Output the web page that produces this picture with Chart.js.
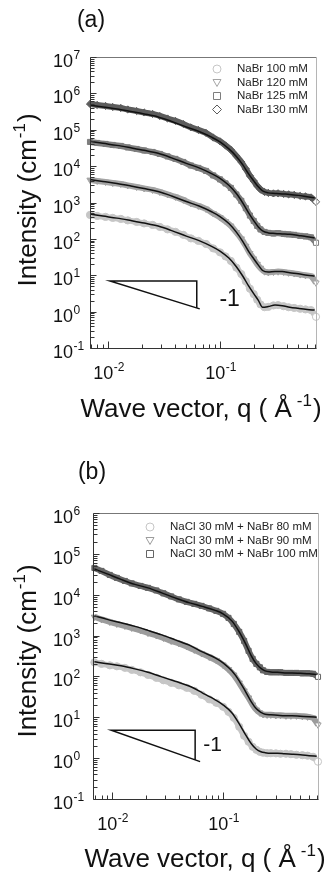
<!DOCTYPE html>
<html>
<head>
<meta charset="utf-8">
<title>Intensity vs wave vector</title>
<script src="https://cdn.jsdelivr.net/npm/chart.js@4.4.1/dist/chart.umd.min.js"></script>
<style>
    html, body { margin: 0; padding: 0; background: #fff; }
    canvas { position: absolute; left: 0; }
    #panelA { top: 0; }
    #panelB { top: 430px; }
</style>
</head>
<body>
<canvas id="panelA" width="329" height="430"></canvas>
<canvas id="panelB" width="329" height="447"></canvas>
<script>
// Wave vector of the measured points and of the fitted curves (1/Å)
const qData = [0.0069, 0.008, 0.0095, 0.011, 0.013, 0.015, 0.018, 0.021, 0.025, 0.029,
    0.034, 0.04, 0.047, 0.055, 0.064, 0.075, 0.087, 0.1, 0.112, 0.125,
    0.14, 0.155, 0.17, 0.185, 0.2, 0.215, 0.23, 0.25, 0.27, 0.3,
    0.33, 0.37, 0.41, 0.46, 0.52, 0.58, 0.65, 0.72];
const qFit = [0.0069, 0.009, 0.012, 0.016, 0.021, 0.028, 0.037, 0.05, 0.065, 0.085,
    0.1, 0.12, 0.14, 0.16, 0.18, 0.2, 0.22, 0.24, 0.27, 0.31,
    0.36, 0.42, 0.5, 0.6, 0.7];

// Panel (a) - NaBr, measured intensity (cm^-1)
const nabr100 = [456, 428, 402, 377, 354, 322, 292, 266, 242, 213,
    182, 156, 129, 103, 88.1, 72.8, 54.7, 42.6, 33.0, 24.8,
    16.2, 10.8, 6.81, 4.28, 3.04, 2.12, 1.58, 1.32, 1.35, 1.48,
    1.51, 1.41, 1.32, 1.26, 1.20, 1.15, 1.10, 0.72];
const nabr120 = [4180, 3920, 3680, 3450, 3240, 2950, 2680, 2440, 2220, 1950,
    1670, 1430, 1180, 944, 807, 667, 501, 390, 303, 228,
    151, 101, 63.5, 39.9, 28.4, 20.2, 15.8, 12.6, 12.0, 12.3,
    12.6, 12.3, 11.7, 11.2, 10.5, 10.0, 9.5, 6.2];
const nabr125 = [46200, 43400, 40700, 38200, 35900, 32700, 29600, 27000, 24500, 21600,
    18500, 15800, 13000, 10400, 8930, 7380, 5550, 4320, 3350, 2520,
    1660, 1110, 697, 438, 311, 227, 182, 155, 146, 141,
    144, 137, 133, 129, 121, 117, 110, 78];
const nabr130 = [511000, 480000, 451000, 423000, 397000, 361000, 328000, 299000, 272000, 239000,
    204000, 175000, 144000, 116000, 99000, 82000, 61000, 48000, 37000, 28000,
    19000, 13000, 8400, 5400, 3900, 2860, 2290, 1950, 1840, 1780,
    1790, 1720, 1670, 1620, 1520, 1470, 1380, 1040];

// Panel (a) - fitted curves
const fit100 = [480, 423, 372, 318, 272, 225, 169, 119, 89.7, 61.4,
    46.2, 29.7, 17.2, 9.40, 5.08, 3.11, 2.04, 1.32, 1.38, 1.51,
    1.45, 1.32, 1.23, 1.15, 1.10];
const fit120 = [4280, 3770, 3320, 2840, 2420, 2000, 1510, 1060, 800, 547,
    412, 265, 153, 83.8, 45.3, 28.4, 19.0, 13.5, 12.3, 12.6,
    12.6, 11.7, 11.0, 10.0, 9.55];
const fit125 = [48000, 42300, 37200, 31800, 27200, 22500, 16900, 11900, 8970, 6140,
    4620, 2970, 1760, 962, 520, 318, 213, 166, 146, 141,
    137, 133, 124, 115, 106];
const fit130 = [480000, 423000, 373000, 318000, 272000, 225000, 169000, 119000, 89800, 61400,
    46200, 29700, 18500, 10800, 6110, 3920, 2690, 2080, 1840, 1780,
    1720, 1670, 1570, 1440, 1340];

// Panel (b) - NaCl 30 mM + NaBr, measured intensity (cm^-1)
const mix80 = [221, 203, 187, 177, 162, 145, 126, 109, 92.5, 80.4,
    69.8, 60.5, 52.6, 44.5, 35.5, 27.5, 22.6, 18.1, 13.6, 9.72,
    5.86, 3.53, 2.52, 1.90, 1.60, 1.43, 1.36, 1.32, 1.32, 1.31,
    1.28, 1.28, 1.25, 1.21, 1.18, 1.15, 1.08, 0.82];
const mix90 = [2860, 2490, 2160, 1930, 1730, 1540, 1340, 1160, 1010, 879,
    741, 644, 544, 447, 367, 301, 248, 192, 149, 109,
    69.8, 44.5, 30.0, 20.2, 15.2, 12.9, 11.8, 11.5, 11.5, 11.2,
    11.2, 10.9, 10.9, 10.9, 10.6, 10.3, 9.7, 6.56];
const mix100 = [45200, 38200, 30500, 25800, 21700, 18900, 16400, 14700, 12700, 10800,
    9080, 7670, 6670, 5960, 5320, 4620, 4020, 3400, 2710, 1930,
    1230, 741, 423, 269, 203, 167, 141, 129, 126, 126,
    126, 122, 122, 122, 119, 119, 116, 97.7];

// Panel (b) - fitted curves
const fitMix80 = [228, 203, 182, 153, 126, 97.7, 75.9, 57.3, 39.7, 26.8,
    20.2, 12.9, 6.93, 3.73, 2.25, 1.65, 1.43, 1.36, 1.32, 1.32,
    1.28, 1.25, 1.21, 1.15, 1.11];
const fitMix90 = [3030, 2490, 2050, 1680, 1340, 1040, 785, 575, 399, 285,
    215, 137, 78.0, 42.0, 23.9, 16.1, 13.2, 11.8, 11.5, 11.2,
    10.9, 10.9, 10.6, 10.3, 10.0];
const fitMix100 = [42800, 32300, 23700, 17900, 14700, 11100, 8360, 6310, 5180, 4130,
    3400, 2290, 1230, 627, 319, 203, 158, 137, 129, 126,
    122, 122, 119, 116, 112];

// Legend labels
const labelsA = ['NaBr 100 mM', 'NaBr 120 mM', 'NaBr 125 mM', 'NaBr 130 mM'];
const labelsB = ['NaCl 30 mM + NaBr 80 mM', 'NaCl 30 mM + NaBr 90 mM', 'NaCl 30 mM + NaBr 100 mM'];

// Axis ticks: decades and the steps inside each decade
const minorSteps = [1, 2, 3, 4, 5, 6, 7, 8, 9];
const xDecades = [-3, -2, -1];
const yDecadesA = [-1, 0, 1, 2, 3, 4, 5, 6, 7];
const yDecadesB = [-1, 0, 1, 2, 3, 4, 5, 6];

// Slope -1 guide triangles, in data units
const slopeA = [{x: 0.0659, y: 1.19}, {x: 0.0104, y: 7.0}, {x: 0.062, y: 7.0}, {x: 0.062, y: 1.26}];
const slopeB = [{x: 0.0621, y: 0.82}, {x: 0.0098, y: 4.8}, {x: 0.056, y: 4.8}, {x: 0.056, y: 0.906}];

const FONT = '"Liberation Sans", Arial, sans-serif';

function font(size) {
    return size + 'px ' + FONT;
}

function pairs(qs, values) {
    return qs.map((q, i) => ({x: q, y: values[i]}));
}

// Measured series: grey band of open markers, last marker left white
function measured(label, values, color, style) {
    return {
        label: label,
        data: pairs(qData, values),
        showLine: true,
        borderColor: color,
        borderWidth: 6,
        tension: 0.2,
        pointStyle: style,
        pointRotation: style === 'triangle' ? 180 : 0,
        pointRadius: 3.6,
        pointBorderWidth: 1,
        pointBorderColor: color,
        pointBackgroundColor: ctx => ctx.dataIndex === values.length - 1 ? '#fff' : color,
        legendColor: color,
        clip: false,
        order: 1
    };
}

// Fitted curve: thin black line
function fitted(values) {
    return {
        data: pairs(qFit, values),
        borderColor: '#111',
        borderWidth: 1.5,
        pointRadius: 0,
        cubicInterpolationMode: 'monotone',
        order: 0
    };
}

function guide(points) {
    return {
        data: points,
        borderColor: '#111',
        borderWidth: 1.5,
        pointRadius: 0,
        tension: 0,
        order: 0
    };
}

function logAxis(min, max, decades, fit) {
    return {
        type: 'logarithmic',
        min: min,
        max: max,
        grid: { display: false },
        border: { display: false },
        ticks: { display: false },
        afterBuildTicks: scale => {
            const ticks = [];
            decades.forEach(e => minorSteps.forEach(m => {
                const v = m * Math.pow(10, e);
                if (v >= min * 0.999 && v <= max * 1.001) ticks.push({ value: v, major: m === 1 });
            }));
            scale.ticks = ticks;
        },
        afterFit: fit
    };
}

// "10" with a raised exponent
function drawPower(ctx, exp, x, cy, align) {
    ctx.font = font(18);
    const wBase = ctx.measureText('10').width;
    ctx.font = font(12);
    const sup = String(exp);
    const wSup = ctx.measureText(sup).width;
    const left = align === 'center' ? x - (wBase + wSup) / 2 : x;
    const base = cy + 6.5;
    ctx.font = font(18);
    ctx.fillText('10', left, base);
    ctx.font = font(12);
    ctx.fillText(sup, left + wBase + 0.5, base - 8);
}

// Text with superscript parts, centred on (cx, cy), optionally rotated
function drawRich(ctx, parts, cx, cy, size, angle) {
    const supSize = Math.round(size * 0.65);
    const widths = parts.map(p => {
        ctx.font = font(p.sup ? supSize : size);
        return ctx.measureText(p.text).width + (p.gap || 0);
    });
    const total = widths.reduce((a, b) => a + b, 0);
    ctx.save();
    ctx.translate(cx, cy);
    ctx.rotate(angle);
    let x = -total / 2;
    const base = size * 0.36;
    parts.forEach((p, i) => {
        ctx.font = font(p.sup ? supSize : size);
        ctx.fillText(p.text, x + (p.gap || 0), p.sup ? base - size * 0.45 : base);
        x += widths[i];
    });
    ctx.restore();
}

function drawMarker(ctx, style, x, y) {
    ctx.beginPath();
    if (style === 'circle') {
        ctx.arc(x, y, 4, 0, Math.PI * 2);
    } else if (style === 'triangle') {
        ctx.moveTo(x - 4, y - 3);
        ctx.lineTo(x + 4, y - 3);
        ctx.lineTo(x, y + 4);
        ctx.closePath();
    } else if (style === 'rect') {
        ctx.rect(x - 3.5, y - 3.5, 7, 7);
    } else {
        ctx.moveTo(x, y - 4.5);
        ctx.lineTo(x + 4.5, y);
        ctx.lineTo(x, y + 4.5);
        ctx.lineTo(x - 4.5, y);
        ctx.closePath();
    }
    ctx.fillStyle = '#fff';
    ctx.fill();
    ctx.stroke();
}

// Frame, inward ticks, tick labels, titles, legend and notes
const decor = {
    id: 'decor',
    afterDraw(chart, args, opts) {
        const ctx = chart.ctx;
        const area = chart.chartArea;
        const xs = chart.scales.x;
        const ys = chart.scales.y;
        const L = Math.round(area.left) + 0.5;
        const R = Math.round(area.right) + 0.5;
        const T = Math.round(area.top) + 0.5;
        const B = Math.round(area.bottom) + 0.5;

        ctx.save();
        ctx.lineWidth = 1;
        ctx.strokeStyle = '#777';
        ctx.beginPath(); ctx.moveTo(L, T); ctx.lineTo(R, T); ctx.stroke();
        ctx.strokeStyle = '#b5b5b5';
        ctx.beginPath(); ctx.moveTo(R, T); ctx.lineTo(R, B); ctx.stroke();
        ctx.strokeStyle = '#333';
        ctx.beginPath(); ctx.moveTo(L, T); ctx.lineTo(L, B); ctx.lineTo(R, B); ctx.stroke();

        ctx.fillStyle = '#111';
        ctx.textAlign = 'left';
        ctx.textBaseline = 'alphabetic';

        xs.ticks.forEach(t => {
            const px = Math.round(xs.getPixelForValue(t.value)) + 0.5;
            if (px < area.left || px > area.right + 1) return;
            const len = t.major ? 7 : 4;
            ctx.beginPath(); ctx.moveTo(px, B); ctx.lineTo(px, B - len); ctx.stroke();
            if (t.major) drawPower(ctx, Math.round(Math.log10(t.value)), px, area.bottom + 24, 'center');
        });
        ys.ticks.forEach(t => {
            const py = Math.round(ys.getPixelForValue(t.value)) + 0.5;
            const len = t.major ? 6 : 4;
            ctx.beginPath(); ctx.moveTo(L, py); ctx.lineTo(L + len, py); ctx.stroke();
            if (t.major) drawPower(ctx, Math.round(Math.log10(t.value)), opts.yLabelX, py + 3, 'left');
        });

        // Panel letter
        ctx.font = font(23);
        ctx.textAlign = 'center';
        ctx.textBaseline = 'middle';
        ctx.fillText(opts.letter, opts.letterX, opts.letterY);

        // Slope note next to the triangle
        ctx.font = font(opts.noteSize);
        ctx.fillText('-1', xs.getPixelForValue(opts.noteQ), ys.getPixelForValue(opts.noteI));

        // Axis titles
        ctx.textAlign = 'left';
        ctx.textBaseline = 'alphabetic';
        drawRich(ctx, [{text: 'Intensity (cm'}, {text: '-1', sup: true, gap: 1}, {text: ')', gap: 1}],
            opts.yTitleX, opts.yTitleY, 26, -Math.PI / 2);
        drawRich(ctx, [{text: 'Wave vector, q ( Å'}, {text: '-1', sup: true, gap: 5}, {text: ')', gap: 1}],
            opts.xTitleX, opts.xTitleY, 26, 0);

        // Legend
        ctx.font = font(11.5);
        ctx.textBaseline = 'middle';
        chart.data.datasets.filter(d => d.label).forEach((d, i) => {
            const y = opts.legendY + i * opts.legendStep;
            ctx.strokeStyle = d.legendColor;
            ctx.lineWidth = 1;
            drawMarker(ctx, d.pointStyle, opts.legendX, y);
            ctx.fillStyle = '#222';
            ctx.fillText(d.label, opts.legendTextX, y);
        });
        ctx.restore();
    }
};

function buildPanel(canvasId, cfg) {
    return new Chart(document.getElementById(canvasId), {
        type: 'line',
        data: { datasets: cfg.datasets },
        options: {
            responsive: false,
            animation: false,
            events: [],
            layout: { padding: cfg.padding },
            plugins: {
                legend: { display: false },
                tooltip: { enabled: false },
                decor: cfg.decor
            },
            scales: {
                x: logAxis(cfg.xMin, cfg.xMax, xDecades, s => { s.height = cfg.xAxisHeight; }),
                y: logAxis(cfg.yMin, cfg.yMax, cfg.yDecades, s => { s.width = cfg.yAxisWidth; })
            }
        },
        plugins: [decor]
    });
}

document.addEventListener('DOMContentLoaded', () => {
    // Panel (a)
    buildPanel('panelA', {
        datasets: [
            measured(labelsA[0], nabr100, '#c6c6c6', 'circle'),
            measured(labelsA[1], nabr120, '#a4a4a4', 'triangle'),
            measured(labelsA[2], nabr125, '#7e7e7e', 'rect'),
            measured(labelsA[3], nabr130, '#5c5c5c', 'rectRot'),
            fitted(fit100), fitted(fit120), fitted(fit125), fitted(fit130),
            guide(slopeA)
        ],
        padding: { top: 57, right: 13, bottom: 0, left: 0 },
        xMin: 0.0069, xMax: 0.72, xAxisHeight: 82,
        yMin: 0.1, yMax: 1e7, yDecades: yDecadesA, yAxisWidth: 90,
        decor: {
            letter: '(a)', letterX: 91, letterY: 21,
            noteQ: 0.122, noteI: 2.1, noteSize: 23,
            yLabelX: 53,
            yTitleX: 27, yTitleY: 200,
            xTitleX: 201, xTitleY: 408,
            legendX: 217, legendTextX: 237, legendY: 69, legendStep: 13.5
        }
    });

    // Panel (b)
    buildPanel('panelB', {
        datasets: [
            measured(labelsB[0], mix80, '#c6c6c6', 'circle'),
            measured(labelsB[1], mix90, '#9c9c9c', 'triangle'),
            measured(labelsB[2], mix100, '#656565', 'rect'),
            fitted(fitMix80), fitted(fitMix90), fitted(fitMix100),
            guide(slopeB)
        ],
        padding: { top: 83, right: 11, bottom: 0, left: 0 },
        xMin: 0.0067, xMax: 0.72, xAxisHeight: 78,
        yMin: 0.1, yMax: 1e6, yDecades: yDecadesB, yAxisWidth: 93,
        decor: {
            letter: '(b)', letterX: 92, letterY: 43,
            noteQ: 0.0806, noteI: 2.13, noteSize: 21,
            yLabelX: 53,
            yTitleX: 27, yTitleY: 221,
            xTitleX: 205, xTitleY: 428,
            legendX: 150, legendTextX: 170, legendY: 97, legendStep: 13.5
        }
    });
});
</script>
</body>
</html>
